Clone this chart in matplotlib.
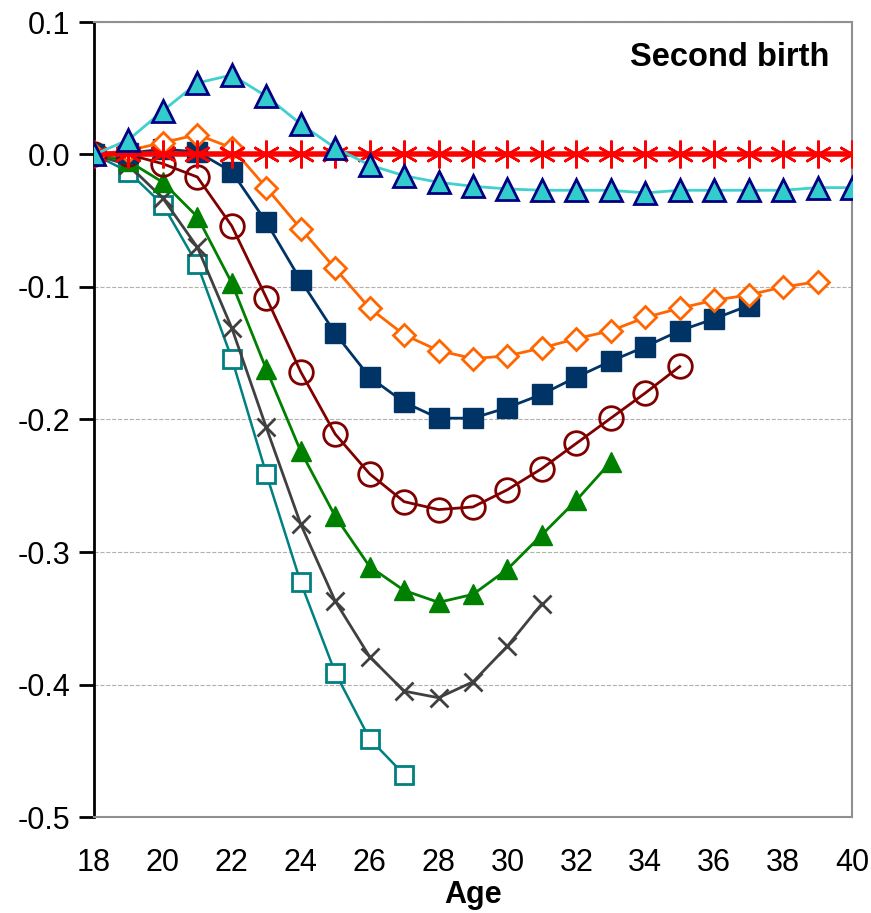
import matplotlib
matplotlib.use("Agg")
import matplotlib.pyplot as plt
import numpy as np

plt.rcParams['font.family'] = ['Liberation Sans', 'DejaVu Sans']

ages_all = list(range(18, 41))
red_zero = [0.0] * len(ages_all)

ages_cyan = list(range(18, 41))
cyan_tri = [0.0, 0.011, 0.033, 0.054, 0.060, 0.044, 0.023, 0.005, -0.008, -0.016,
            -0.021, -0.024, -0.026, -0.027, -0.027, -0.027, -0.029, -0.027, -0.027,
            -0.027, -0.027, -0.025, -0.025]

ages_orange = list(range(18, 40))
orange_dia = [0.0, 0.003, 0.009, 0.015, 0.005, -0.025, -0.056, -0.086, -0.116, -0.136,
              -0.148, -0.154, -0.152, -0.146, -0.139, -0.133, -0.123, -0.116, -0.110,
              -0.106, -0.100, -0.096]

ages_navy = list(range(18, 38))
navy_sq = [0.0, 0.001, 0.004, 0.002, -0.013, -0.051, -0.095, -0.135, -0.168, -0.187,
           -0.199, -0.199, -0.191, -0.181, -0.168, -0.156, -0.145, -0.133, -0.124, -0.114]

ages_circ = list(range(18, 36))
darkred_circ = [0.0, 0.0, -0.007, -0.017, -0.054, -0.108, -0.164, -0.211, -0.241, -0.262,
                -0.268, -0.266, -0.253, -0.237, -0.218, -0.199, -0.180, -0.160]

ages_green = list(range(18, 34))
green_tri = [0.0, -0.005, -0.021, -0.047, -0.097, -0.162, -0.224, -0.273, -0.311, -0.329,
             -0.338, -0.332, -0.313, -0.287, -0.261, -0.232]

ages_x = list(range(18, 32))
gray_x = [0.0, -0.008, -0.033, -0.070, -0.131, -0.206, -0.279, -0.337, -0.379, -0.405,
          -0.410, -0.398, -0.371, -0.339]

ages_teal = list(range(18, 28))
teal_sq = [0.0, -0.013, -0.038, -0.083, -0.154, -0.241, -0.323, -0.391, -0.441, -0.468]

xticks = list(range(18, 41, 2))
yticks = [0.1, 0.0, -0.1, -0.2, -0.3, -0.4, -0.5]

fig = plt.figure(figsize=(8.71, 9.13), dpi=100)
ax = fig.add_axes([94/871, 1-817/913, (852-94)/871, (817-22)/913])

ms = 13
ax.plot(ages_teal, teal_sq, color='#008080', lw=1.8, marker='s', ms=ms,
        mfc='white', mec='#008080', mew=2, zorder=3)
ax.plot(ages_x, gray_x, color='#404040', lw=2, marker='x', ms=ms, mew=2, zorder=3)
ax.plot(ages_green, green_tri, color='#008000', lw=2, marker='^', ms=ms+2,
        mfc='#008000', mec='#008000', zorder=3)
ax.plot(ages_circ, darkred_circ, color='#800000', lw=2, marker='o', ms=ms+4,
        mfc='none', mec='#800000', mew=2, zorder=3)
ax.plot(ages_navy, navy_sq, color='#003366', lw=2, marker='s', ms=ms+1,
        mfc='#003366', mec='#003366', zorder=3)
ax.plot(ages_orange, orange_dia, color='#FF6600', lw=2, marker='D', ms=ms-2,
        mfc='white', mec='#FF6600', mew=2, zorder=3)
ax.plot(ages_all, red_zero, color='#FF0000', lw=4, marker=(6, 2, 0), ms=ms+7,
        mew=1.8, mec='#FF0000', zorder=4)
ax.plot(ages_cyan, cyan_tri, color='#40D0D0', lw=2, marker='^', ms=ms+3,
        mfc='#33CCCC', mec='#000080', mew=2, zorder=5)

ax.set_xlim(18, 40)
ax.set_ylim(-0.5, 0.1)
ax.set_xticks(xticks)
ax.set_yticks(yticks)
ax.set_yticklabels([f"{v:.1f}" for v in yticks])
ax.grid(axis='y', color='#B0B0B0', ls='--', lw=0.8)
ax.set_axisbelow(True)

for s in ['top', 'right', 'bottom']:
    ax.spines[s].set_color('#909090')
    ax.spines[s].set_linewidth(1.5)
ax.spines['left'].set_color('black')
ax.spines['left'].set_linewidth(2)

ax.tick_params(axis='y', length=11, width=2, labelsize=22, pad=6, color='black')
ax.tick_params(axis='x', length=0, labelsize=22, pad=22)

ax.set_xlabel('Age', fontsize=22, fontweight='bold', labelpad=2)
ax.text(0.97, 0.975, 'Second birth', transform=ax.transAxes, ha='right', va='top',
        fontsize=23.5, fontweight='bold')

fig.savefig('out.png', dpi=100)
